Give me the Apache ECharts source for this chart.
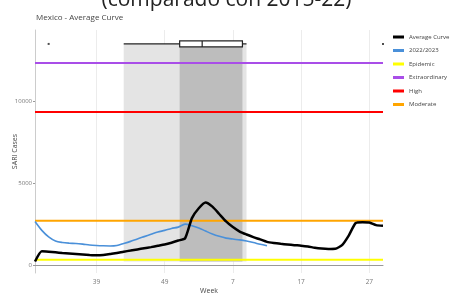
<!DOCTYPE html>
<html>
<head>
<meta charset="utf-8">
<script src="https://cdn.jsdelivr.net/npm/echarts@6/dist/echarts.min.js"></script>
<style>
  html, body { margin: 0; padding: 0; background: #fff; }
  #chart { width: 453px; height: 293px; }
</style>
</head>
<body>
<div id="chart"></div>
<script>
// epi weeks 30..52 then 1..29
const weeks = ['30','31','32','33','34','35','36','37','38','39','40','41','42','43','44','45','46','47','48','49','50','51','52',
  '1','2','3','4','5','6','7','8','9','10','11','12','13','14','15','16','17','18','19','20','21','22','23','24','25','26','27','28','29']

const averageCurve = [200, 830, 800, 760, 720, 690, 660, 630, 600, 580, 600, 660, 720, 800, 870, 940, 1010, 1080, 1160, 1240,
  1350, 1480, 1620, 2850, 3450, 3800, 3550, 3100, 2650, 2300, 2030, 1850, 1690, 1550, 1400, 1330, 1280, 1240, 1200, 1170,
  1120, 1040, 990, 970, 980, 1200, 1800, 2550, 2600, 2580, 2420, 2380]

const season2223 = [2640, 2100, 1700, 1450, 1360, 1320, 1300, 1260, 1210, 1180, 1160, 1150, 1180, 1300, 1430, 1580, 1720, 1860,
  2000, 2100, 2220, 2300, 2480, 2380, 2250, 2060, 1880, 1740, 1630, 1570, 1520, 1450, 1360, 1250, 1160]

const thresholds = {
  epidemic: 310,
  extraordinary: 12320,
  high: 9330,
  moderate: 2690
}

// peak week box plot (positions as index into weeks): whisker low, q1, median, q3, whisker high
const peakBox = [13, 21.2, 24.5, 30.4, 31]
const peakOutliers = [2, 51]
const peakRowValue = 13480
const shadeBottom = 200

const yTicks = [0, 5000, 10000]

let chart = echarts.init(document.getElementById('chart'))

function thresholdSeries (name, value, color) {
  return {
    name: name,
    type: 'line',
    data: [[0, value], [weeks.length - 1, value]],
    showSymbol: false,
    silent: true,
    z: 4,
    lineStyle: { color: color, width: 2 },
    itemStyle: { color: color }
  }
}

// category coord with fractional index
function xAt (api, v, y) {
  let a = Math.floor(v)
  let b = Math.min(a + 1, weeks.length - 1)
  let pa = api.coord([a, y])
  let pb = api.coord([b, y])
  return [pa[0] + (pb[0] - pa[0]) * (v - a), pa[1]]
}

let option = {
  animation: false,
  textStyle: { fontFamily: 'Open Sans' },
  graphic: [
    {
      type: 'text',
      left: 'center',
      top: -10,
      style: {
        text: '(comparado con 2015-22)',
        fontSize: 21,
        fontFamily: 'Open Sans',
        fill: '#222'
      }
    }
  ],
  title: {
    text: 'Mexico - Average Curve',
    left: 31,
    top: 9,
    textStyle: { fontSize: 8, fontWeight: 'normal', color: '#444' }
  },
  legend: {
    orient: 'vertical',
    left: 393,
    top: 34,
    padding: 0,
    itemWidth: 11,
    itemHeight: 3,
    itemGap: 7.5,
    icon: 'rect',
    textStyle: { fontSize: 6, color: '#444' },
    data: ['Average Curve', '2022/2023', 'Epidemic', 'Extraordinary', 'High', 'Moderate']
  },
  grid: {
    left: 35,
    right: 70,
    top: 30,
    bottom: 20,
    containLabel: false,
    outerBoundsMode: 'none'
  },
  xAxis: {
    type: 'category',
    data: weeks,
    boundaryGap: false,
    name: 'Week',
    nameLocation: 'middle',
    nameGap: 14,
    nameMoveOverlap: false,
    nameTextStyle: { fontSize: 7, color: '#444' },
    axisLine: { lineStyle: { color: '#999' } },
    axisTick: { show: false },
    axisLabel: {
      fontSize: 6.5,
      color: '#777',
      margin: 6,
      interval: (i) => i % 10 === 9
    },
    splitLine: {
      show: true,
      interval: (i) => i % 10 === 9,
      lineStyle: { color: '#ececec' }
    }
  },
  yAxis: {
    type: 'value',
    min: -500,
    max: 14330,
    name: 'SARI Cases',
    nameLocation: 'middle',
    nameGap: 17,
    nameMoveOverlap: false,
    nameTextStyle: { fontSize: 7, color: '#444' },
    axisLine: { show: true, lineStyle: { color: '#ccc' } },
    axisTick: { show: true, length: 2, customValues: yTicks, lineStyle: { color: '#999' } },
    axisLabel: { fontSize: 6, color: '#777', margin: 3, customValues: yTicks, formatter: (v) => String(v) },
    splitLine: { show: false }
  },
  series: [
    {
      name: 'peak box',
      type: 'custom',
      data: [[0]],
      silent: true,
      z: 1,
      renderItem: function (params, api) {
        let lo = xAt(api, peakBox[0], peakRowValue)
        let q1 = xAt(api, peakBox[1], peakRowValue)
        let md = xAt(api, peakBox[2], peakRowValue)
        let q3 = xAt(api, peakBox[3], peakRowValue)
        let hi = xAt(api, peakBox[4], peakRowValue)
        let y = lo[1]
        let yb = api.coord([0, shadeBottom])[1]
        let h = 3
        let stroke = { stroke: '#222', lineWidth: 1.2 }
        return {
          type: 'group',
          children: [
            { type: 'rect', shape: { x: lo[0], y: y, width: hi[0] - lo[0], height: yb - y }, style: { fill: '#e4e4e4' } },
            { type: 'rect', shape: { x: q1[0], y: y, width: q3[0] - q1[0], height: yb - y }, style: { fill: '#bdbdbd' } },
            { type: 'line', shape: { x1: lo[0], y1: y, x2: hi[0], y2: y }, style: stroke },
            { type: 'rect', shape: { x: q1[0], y: y - h, width: q3[0] - q1[0], height: 2 * h }, style: { fill: '#fff', stroke: '#222', lineWidth: 1.2 } },
            { type: 'line', shape: { x1: md[0], y1: y - h, x2: md[0], y2: y + h }, style: stroke }
          ]
        }
      }
    },
    {
      name: 'peaks',
      type: 'scatter',
      data: peakOutliers.map(i => [i, peakRowValue]),
      symbolSize: 2,
      symbol: 'rect',
      itemStyle: { color: '#222' },
      silent: true,
      z: 2
    },
    thresholdSeries('Epidemic', thresholds.epidemic, '#ffff00'),
    thresholdSeries('Extraordinary', thresholds.extraordinary, '#a94ee8'),
    thresholdSeries('High', thresholds.high, '#ff0000'),
    thresholdSeries('Moderate', thresholds.moderate, '#ffa500'),
    {
      name: '2022/2023',
      type: 'line',
      data: season2223,
      showSymbol: false,
      smooth: 0.3,
      z: 5,
      lineStyle: { color: '#4a90d9', width: 1.6 },
      itemStyle: { color: '#4a90d9' }
    },
    {
      name: 'Average Curve',
      type: 'line',
      data: averageCurve,
      showSymbol: false,
      smooth: 0.2,
      z: 6,
      lineStyle: { color: '#000', width: 2.5 },
      itemStyle: { color: '#000' }
    }
  ]
}

chart.setOption(option)
</script>
</body>
</html>
